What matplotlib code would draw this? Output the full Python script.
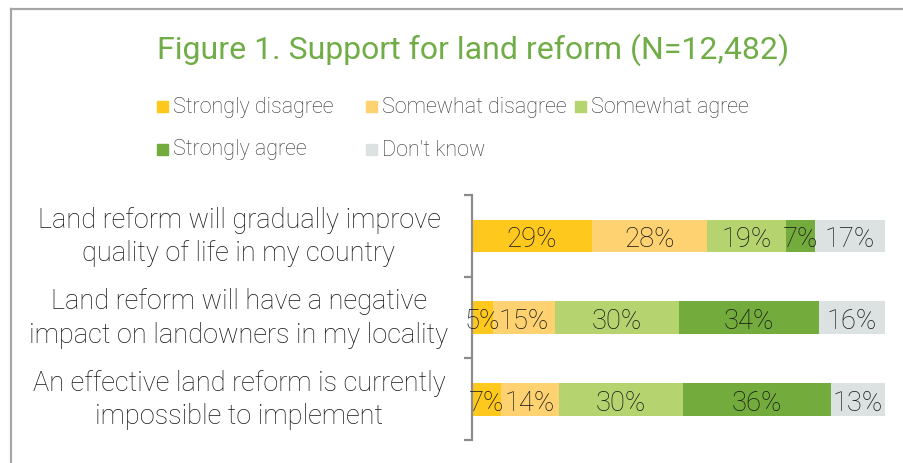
import numpy as np
import matplotlib
matplotlib.use('Agg')
import matplotlib.pyplot as plt
from matplotlib.patches import Rectangle
from matplotlib.lines import Line2D

plt.rcParams['font.family'] = ['Roboto', 'DejaVu Sans']

# Datos
categorias = ['Land reform will gradually improve\nquality of life in my country',
              'Land reform will have a negative\nimpact on landowners in my locality',
              'An effective land reform is currently\nimpossible to implement']
series = ['Strongly disagree', 'Somewhat disagree', 'Somewhat agree', 'Strongly agree', "Don't know"]
strongly_disagree = [29, 5, 7]
somewhat_disagree = [28, 15, 14]
somewhat_agree = [19, 30, 30]
strongly_agree = [7, 34, 36]
dont_know = [17, 16, 13]
colores = ['#FEC81D', '#FED271', '#B5D46F', '#73AB3C', '#DCE1E1']

valores = [strongly_disagree, somewhat_disagree, somewhat_agree, strongly_agree, dont_know]

W, H = 904, 464
fig = plt.figure(figsize=(W / 100, H / 100), dpi=100)
ax = fig.add_axes([472 / W, (H - 441) / H, 413 / W, 245 / H])

y = np.arange(len(categorias))
izq = np.zeros(len(categorias))
for vals, col in zip(valores, colores):
    vals = np.array(vals, dtype=float)
    ax.barh(y, vals, left=izq, height=0.40, color=col, edgecolor='none')
    for yi, l, v in zip(y, izq, vals):
        ax.text(l + v / 2, yi, f'{int(v)}%', ha='center', va='center_baseline',
                fontsize=19.7, color='#151515', fontweight='light')
    izq += vals

ax.set_xlim(0, 100)
ax.set_ylim(len(categorias) - 0.5, -0.5)
ax.xaxis.set_visible(False)
for s in ['top', 'right', 'bottom']:
    ax.spines[s].set_visible(False)
ax.spines['left'].set_color('#8C8C8C')
ax.spines['left'].set_linewidth(1.6)
ax.set_yticks(np.arange(len(categorias) + 1) - 0.5)
ax.set_yticklabels([])
ax.tick_params(axis='y', length=6, width=1.6, color='#8C8C8C', direction='out')

for yi, cat in zip(y, categorias):
    ax.text((239 - 472) / 413, yi, cat, transform=ax.get_yaxis_transform(),
            ha='center', va='center', multialignment='center',
            fontsize=19.5, color='#151515', fontweight='light', linespacing=1.3)

# Titulo
fig.text(473 / W, 1 - 50 / H, 'Figure 1. Support for land reform (N=12,482)',
         ha='center', va='center', fontsize=23, color='#70AD47')

# Leyenda manual
leg_x = [157, 366, 575, 157, 366]
leg_y = [107, 107, 107, 150, 150]
for nom, col, lx, ly in zip(series, colores, leg_x, leg_y):
    fig.patches.append(Rectangle((lx / W, 1 - (ly + 5.5) / H), 11 / W, 11 / H,
                                 transform=fig.transFigure, color=col, figure=fig))
    fig.text((lx + 16) / W, 1 - ly / H, nom, ha='left', va='center',
             fontsize=15.5, color='#333333', fontweight='light')

# Borde
fig.add_artist(Line2D([10.5 / W, 10.5 / W], [0, 1 - 9.5 / H], transform=fig.transFigure,
                      color='#A6A6A6', linewidth=1.6))
fig.add_artist(Line2D([10.5 / W, 1], [1 - 9.5 / H, 1 - 9.5 / H], transform=fig.transFigure,
                      color='#A6A6A6', linewidth=1.6))

plt.savefig('out.png', dpi=100)
plt.close('all')
